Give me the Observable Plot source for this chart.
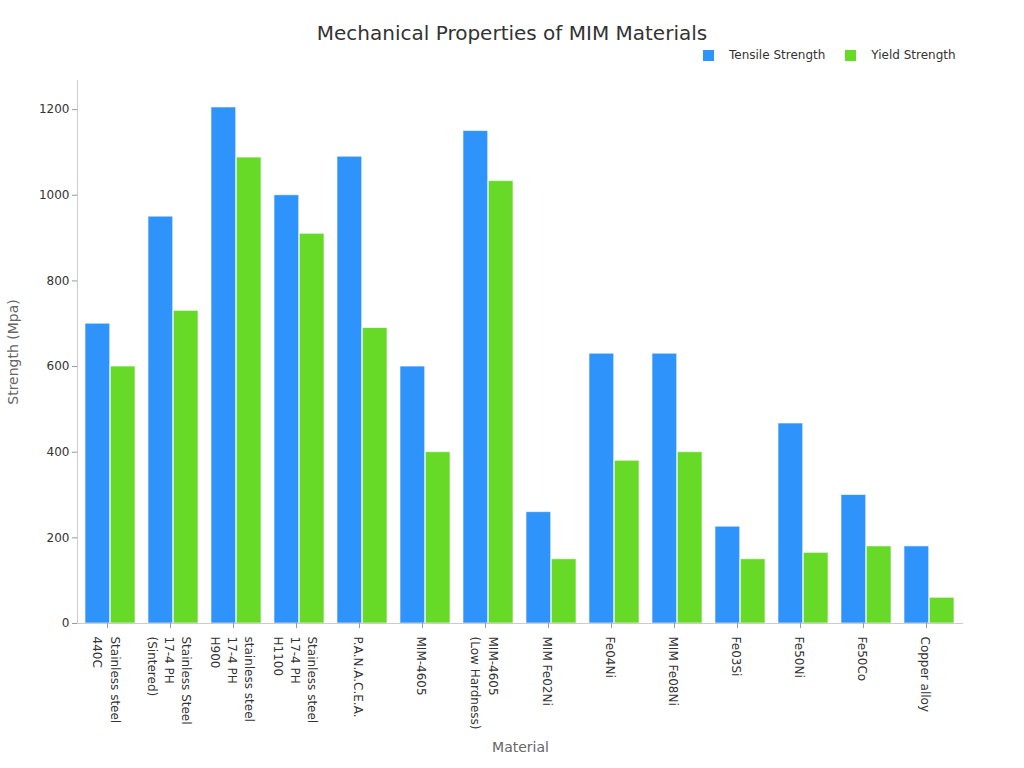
<!DOCTYPE html>
<html>
<head>
<meta charset="utf-8">
<script src="https://cdn.jsdelivr.net/npm/d3@7"></script>
<script src="https://cdn.jsdelivr.net/npm/@observablehq/plot@0.6"></script>
<style>
  body { margin: 0; background: #fff; font-family: "DejaVu Sans", sans-serif; }
  #header { position: relative; width: 1024px; height: 70px; }
  #title { position: absolute; left: 0; width: 1024px; top: 21px; text-align: center; font-size: 20px; color: #333; }
  #legend { position: absolute; left: 703px; top: 48px; font-size: 12px; color: #333; display: flex; align-items: center; }
  .sw { display: inline-block; width: 11px; height: 11px; margin-right: 15px; }
  .item { display: flex; align-items: center; margin-right: 20px; }
</style>
</head>
<body>
<div id="header">
  <div id="title">Mechanical Properties of MIM Materials</div>
  <div id="legend"></div>
</div>
<div id="chart"></div>
<script>
const materials = [
  "Stainless steel\n440C",
  "Stainless Steel\n17-4 PH\n(Sintered)",
  "stainless steel\n17-4 PH\nH900",
  "Stainless steel\n17-4 PH\nH1100",
  "P.A.N.A.C.E.A.",
  "MIM-4605",
  "MIM-4605\n(Low Hardness)",
  "MIM Fe02Ni",
  "Fe04Ni",
  "MIM Fe08Ni",
  "Fe03Si",
  "Fe50Ni",
  "Fe50Co",
  "Copper alloy"
];
const tensile = [700, 950, 1205, 1000, 1090, 600, 1150, 260, 630, 630, 226, 467, 300, 180];
const yieldS  = [600, 730, 1088, 910, 690, 400, 1033, 150, 380, 400, 150, 165, 180, 60];
const seriesNames = ["Tensile Strength", "Yield Strength"];
const colors = ["#2E93fA", "#66DA26"];
const yTicks = [0, 200, 400, 600, 800, 1000, 1200];

const tData = materials.map((m, i) => ({material: m, value: tensile[i]}));
const yData = materials.map((m, i) => ({material: m, value: yieldS[i]}));

const width = 1024, height = 698;
const mL = 77, mR = 61;
const step = (width - mL - mR) / (materials.length);
const half = step * 0.8 / 2;

const legend = document.getElementById("legend");
seriesNames.forEach((s, i) => {
  const it = document.createElement("div");
  it.className = "item";
  it.innerHTML = `<span class="sw" style="background:${colors[i]}"></span><span>${s}</span>`;
  legend.appendChild(it);
});

const chart = Plot.plot({
  width, height,
  marginTop: 10, marginBottom: 145, marginLeft: mL, marginRight: mR,
  style: {fontFamily: "DejaVu Sans, sans-serif", fontSize: "12px", color: "#333", background: "#fff"},
  x: {domain: materials, paddingInner: 0.2, paddingOuter: 0.1, label: null},
  y: {domain: [0, 1268], label: null},
  marks: [
    Plot.barY(tData, {x: "material", y: "value", fill: colors[0], insetRight: half, stroke: "#fff", strokeOpacity: 0.6, strokeWidth: 1}),
    Plot.barY(yData, {x: "material", y: "value", fill: colors[1], insetLeft: half, stroke: "#fff", strokeOpacity: 0.6, strokeWidth: 1}),
    Plot.frame({anchor: "left", stroke: "#ccc"}),
    Plot.ruleY([0], {stroke: "#ccc"}),
    Plot.axisY({ticks: yTicks, tickFormat: d => String(d), tickSize: 5, tickPadding: 3, stroke: "#999", label: null, fontSize: 12}),
    Plot.axisX({tickSize: 5, tickPadding: 8, tickRotate: 90, stroke: "#999", label: null, fontSize: 12, lineHeight: 1.45, dx: -3}),
    Plot.text(["Strength (Mpa)"], {frameAnchor: "left", textAnchor: "middle", dx: -64, rotate: -90, fontSize: 14, fill: "#666"}),
    Plot.text(["Material"], {frameAnchor: "bottom", textAnchor: "middle", dy: 128, fontSize: 14, fill: "#666"})
  ]
});
document.getElementById("chart").appendChild(chart);
</script>
</body>
</html>
